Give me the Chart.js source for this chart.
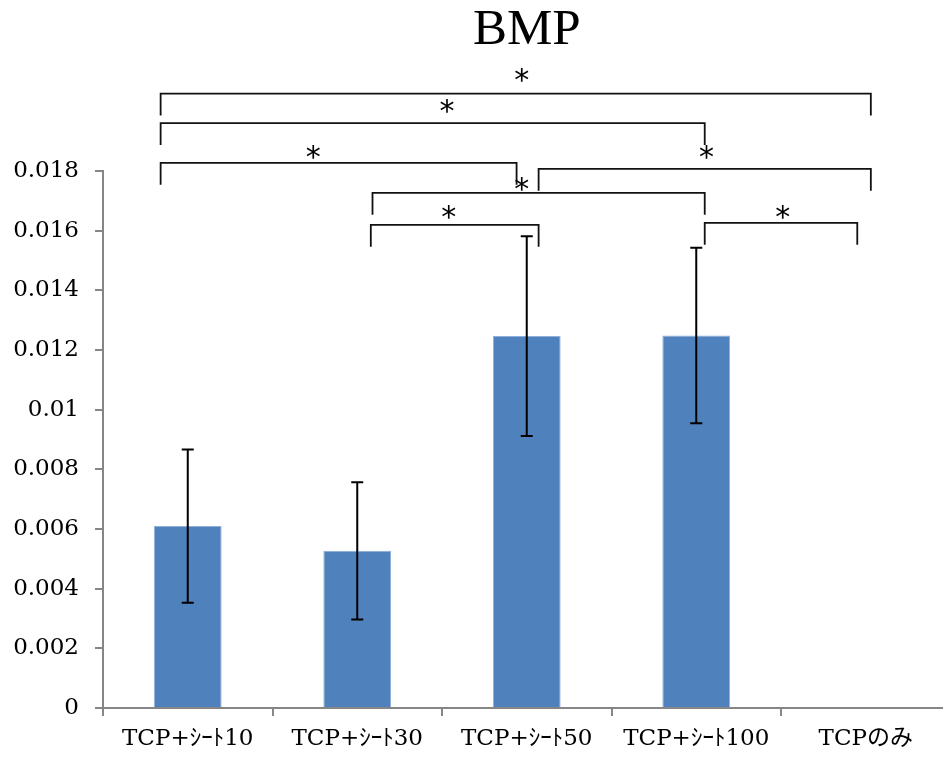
<!DOCTYPE html>
<html>
<head>
<meta charset="utf-8">
<script src="https://cdn.jsdelivr.net/npm/chart.js@4"></script>
<style>
  html, body { margin: 0; padding: 0; overflow: hidden; background: #fff; }
  #wrap { width: 955px; height: 761px; }
</style>
</head>
<body>
<div id="wrap"><canvas id="bmpChart"></canvas></div>
<script>
// categories and values
const categories = ['TCP+ｼｰﾄ10', 'TCP+ｼｰﾄ30', 'TCP+ｼｰﾄ50', 'TCP+ｼｰﾄ100', 'TCPのみ'];
const means = [0.0061, 0.00527, 0.01247, 0.01249, 0];
const errors = [0.00257, 0.0023, 0.00335, 0.00294, 0];
const yTickLabels = ['0', '0.002', '0.004', '0.006', '0.008', '0.01', '0.012', '0.014', '0.016', '0.018'];

// significance brackets (x in category units, y in data units)
const bracketFrom = [-0.16, -0.16, -0.16, 2.07, 1.09, 1.08, 3.05];
const bracketTo = [4.03, 3.05, 1.94, 4.03, 3.05, 2.07, 3.95];
const bracketLevel = [0.02060, 0.01961, 0.01828, 0.01808, 0.01727, 0.01620, 0.01627];
const starX = [1.97, 1.53, 0.74, 3.06, 1.97, 1.54, 3.51];
const starLevel = [0.02122, 0.02019, 0.01865, 0.01865, 0.01756, 0.01664, 0.01664];

const serif = '"DejaVu Serif", "Noto Sans CJK JP", serif';

const errorBars = {
    id: 'errorBars',
    afterDatasetsDraw(chart) {
        const ctx = chart.ctx;
        const y = chart.scales.y;
        const meta = chart.getDatasetMeta(0);
        ctx.save();
        ctx.strokeStyle = '#000';
        ctx.lineWidth = 2;
        meta.data.forEach((bar, i) => {
            if (!errors[i]) return;
            const top = y.getPixelForValue(means[i] + errors[i]);
            const bot = y.getPixelForValue(means[i] - errors[i]);
            ctx.beginPath();
            ctx.moveTo(bar.x, top); ctx.lineTo(bar.x, bot);
            ctx.moveTo(bar.x - 6, top); ctx.lineTo(bar.x + 6, top);
            ctx.moveTo(bar.x - 6, bot); ctx.lineTo(bar.x + 6, bot);
            ctx.stroke();
        });
        ctx.restore();
    }
};

const brackets = {
    id: 'brackets',
    afterDraw(chart) {
        const ctx = chart.ctx;
        const x = chart.scales.x;
        const y = chart.scales.y;
        const drop = 21;
        ctx.save();
        ctx.strokeStyle = '#111';
        ctx.lineWidth = 1.8;
        ctx.lineCap = 'square';
        for (let i = 0; i < bracketLevel.length; i++) {
            const x1 = x.getPixelForValue(bracketFrom[i]);
            const x2 = x.getPixelForValue(bracketTo[i]);
            const yy = y.getPixelForValue(bracketLevel[i]);
            ctx.beginPath();
            ctx.moveTo(x1, yy + drop);
            ctx.lineTo(x1, yy);
            ctx.lineTo(x2, yy);
            ctx.lineTo(x2, yy + drop);
            ctx.stroke();
        }
        ctx.fillStyle = '#000';
        ctx.font = '30px "DejaVu Sans"';
        ctx.textAlign = 'center';
        ctx.textBaseline = 'alphabetic';
        const m = ctx.measureText('*');
        const shift = (m.actualBoundingBoxAscent - m.actualBoundingBoxDescent) / 2;
        for (let i = 0; i < starX.length; i++) {
            ctx.fillText('*', x.getPixelForValue(starX[i]), y.getPixelForValue(starLevel[i]) + shift);
        }
        ctx.restore();
    }
};

new Chart(document.getElementById('bmpChart'), {
    type: 'bar',
    data: {
        labels: categories,
        datasets: [{
            data: means,
            backgroundColor: '#4F81BD',
            borderColor: '#8fb0da',
            borderWidth: 1,
            barPercentage: 0.4,
            categoryPercentage: 1
        }]
    },
    options: {
        responsive: true,
        maintainAspectRatio: false,
        animation: false,
        layout: { padding: { left: 0, right: 4.5, top: 0, bottom: 0 } },
        plugins: {
            legend: { display: false },
            tooltip: { enabled: false },
            title: {
                display: true,
                text: 'BMP',
                fullSize: false,
                color: '#000',
                font: { family: '"Liberation Serif", serif', size: 51, weight: 'normal', lineHeight: 1.2 },
                padding: { top: 0, bottom: 110 }
            }
        },
        scales: {
            x: {
                grid: {
                    drawOnChartArea: false,
                    drawTicks: true,
                    tickLength: 8,
                    color: '#868686',
                    lineWidth: 2
                },
                border: { display: true, color: '#868686', width: 2 },
                ticks: {
                    color: '#000',
                    padding: 9,
                    maxRotation: 0,
                    autoSkip: false,
                    font: { family: serif, size: 23 }
                },
                afterFit(s) { s.height = 53; }
            },
            y: {
                min: 0,
                max: 0.018,
                grid: {
                    drawOnChartArea: false,
                    drawTicks: true,
                    tickLength: 8,
                    color: '#868686',
                    lineWidth: 2
                },
                border: { display: true, color: '#868686', width: 2 },
                ticks: {
                    stepSize: 0.002,
                    color: '#000',
                    padding: 16,
                    font: { family: serif, size: 23 },
                    callback: (v, i) => yTickLabels[i]
                },
                afterFit(s) { s.width = 103; }
            }
        }
    },
    plugins: [errorBars, brackets]
});
</script>
</body>
</html>
